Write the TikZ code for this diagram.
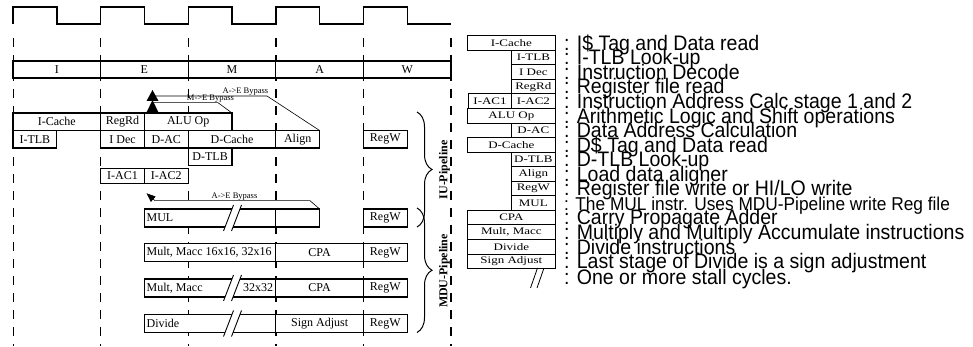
\documentclass[tikz,border=0pt]{standalone}
\usepackage{fontspec}
\setmainfont{Liberation Serif}
\newfontfamily\keyfont[FakeStretch=1.3]{Liberation Serif}
\newfontfamily\notefont[FakeStretch=0.93]{Liberation Sans}
\usetikzlibrary{positioning, calc, decorations.pathreplacing, arrows.meta}
\tikzstyle{cell}      = [rectangle, draw=black, line width=1.1pt, fill=white, inner sep=0pt,
                         outer sep=0pt, minimum height=17.5pt, font=\fontsize{12}{12}\selectfont]
\tikzstyle{celltext}  = [inner sep=0pt, font=\fontsize{12}{12}\selectfont]
\tikzstyle{keybox}    = [rectangle, draw=black, line width=1pt, fill=white, inner sep=0pt,
                         outer sep=0pt, minimum height=14.56pt, font=\keyfont\fontsize{10}{10}\selectfont]
\tikzstyle{keywide}   = [minimum width=87.3pt]
\tikzstyle{keynarrow} = [minimum width=43.3pt]
\tikzstyle{notetext}  = [anchor=base west, inner sep=0pt, font=\notefont\fontsize{21}{21}\selectfont]
\tikzstyle{bypass}    = [line width=0.6pt]
\tikzstyle{bylabel}   = [inner sep=0pt, font=\fontsize{8.5}{8.5}\selectfont]
\tikzstyle{stagedash} = [line width=1.4pt, dash pattern=on 9pt off 8pt]
\tikzstyle{clockline} = [line width=1.4pt]
\tikzstyle{pipebrace} = [decorate, decoration={brace, amplitude=15pt}, line width=1pt]
\tikzset{pics/stallmark/.style={code={
  \fill[white] (-9,13) -- (1,-13) -- (9,-13) -- (-1,13) -- cycle;
  \draw[line width=0.9pt] (-9,13) -- (1,-13) (-1,13) -- (9,-13);
}}}
\begin{document}
\begin{tikzpicture}[x=1pt, y=-1pt]
  \useasboundingbox (0,0) rectangle (973,347);

  % Stage boundaries
  \draw[stagedash, line width=0.8pt] (13,38) -- (13,346);
  \foreach \i in {1,...,5}
    \draw[stagedash] ({13+87.6*\i},38) -- ({13+87.6*\i},346);

  % Clock
  \draw[clockline] (13,24) \foreach \i in {0,...,4} {
    -- ({13+87.6*\i},7) -- ({56.8+87.6*\i},7) -- ({56.8+87.6*\i},24) -- ({100.6+87.6*\i},24)};

  % Stage names
  \node (stI) [cell, minimum width=87.6pt, minimum height=17pt, anchor=north west] at (13,61) {I};
  \node (stE) [cell, minimum width=87.6pt, minimum height=17pt, right=0pt of stI] {E};
  \node (stM) [cell, minimum width=87.6pt, minimum height=17pt, right=0pt of stE] {M};
  \node (stA) [cell, minimum width=87.6pt, minimum height=17pt, right=0pt of stM] {A};
  \node (stW) [cell, minimum width=87.6pt, minimum height=17pt, right=0pt of stA] {W};

  % IU pipeline
  \node (icache) [cell, minimum width=87.6pt, anchor=north west] at (13,113) {I-Cache};
  \node (regrd)  [cell, minimum width=43.8pt, right=0pt of icache] {RegRd};
  \node (aluop)  [cell, minimum width=87.6pt, right=0pt of regrd] {ALU Op};
  \node (itlb)   [cell, minimum width=43.8pt, below right=0pt and 0pt of icache.south west] {I-TLB};
  \node (idec)   [cell, minimum width=43.8pt, below=0pt of regrd] {I Dec};
  \node (dac)    [cell, minimum width=43.8pt, right=0pt of idec] {D-AC};
  \node (dcache) [cell, minimum width=87.6pt, right=0pt of dac] {D-Cache};
  \node (align)  [cell, minimum width=43.8pt, right=0pt of dcache] {Align};
  \node (regw1)  [cell, minimum width=43.8pt, anchor=north west] at (363.4,130.5) {RegW};
  \node (dtlb)   [cell, minimum width=43.8pt, below right=0pt and 0pt of dcache.south west] {D-TLB};
  \node (iac1)   [cell, minimum width=43.8pt, minimum height=15pt, anchor=north west] at (100.6,168.5) {I-AC1};
  \node (iac2)   [cell, minimum width=43.8pt, minimum height=15pt, right=0pt of iac1] {I-AC2};

  % Bypasses
  \coordinate (aeR) at (267,96);
  \coordinate (aeL) at (153,96);
  \coordinate (meR) at (218,102.7);
  \coordinate (meL) at (153,102.7);
  \draw[bypass] (align.north east) -- (aeR) -- (aeL);
  \draw[bypass] (aluop.north east) -- (meR) -- (meL);
  \fill (146.5,101) -- (152.5,90) -- (158.5,101) -- cycle;
  \fill (146.5,112.5) -- (152.5,100) -- (158.5,112.5) -- cycle;
  \node (aelbl) [bylabel, above left=0.3pt and -1.5pt of aeR] {A->E Bypass};
  \node (melbl) [bylabel, anchor=south] at ([xshift=-7.5pt, yshift=0.3pt]meR) {M->E Bypass};

  % MDU pipeline
  \node (mul)   [cell, minimum width=131.4pt, minimum height=18pt, anchor=north west] at (144.4,209) {};
  \node (mulx)  [cell, minimum width=43.8pt, minimum height=18pt, right=0pt of mul] {};
  \node (regw2) [cell, minimum width=43.8pt, minimum height=18pt, anchor=north west] at (363.4,209) {RegW};
  \node (tmul)  [celltext, right=2pt of mul.west] {MUL};

  \node (m16)   [cell, minimum width=131.4pt, minimum height=18pt, anchor=north west] at (144.4,243.5) {};
  \node (cpa1)  [cell, minimum width=87.6pt, minimum height=18pt, right=0pt of m16] {CPA};
  \node (regw3) [cell, minimum width=43.8pt, minimum height=18pt, right=0pt of cpa1] {RegW};
  \node (tm16)  [celltext, right=2pt of m16.west] {Mult, Macc 16x16, 32x16};

  \node (m32)   [cell, minimum width=131.4pt, minimum height=18pt, anchor=north west] at (144.4,279) {};
  \node (cpa2)  [cell, minimum width=87.6pt, minimum height=18pt, right=0pt of m32] {CPA};
  \node (regw4) [cell, minimum width=43.8pt, minimum height=18pt, right=0pt of cpa2] {RegW};
  \node (tm32)  [celltext, right=2pt of m32.west] {Mult, Macc};
  \node (tm32b) [celltext, left=2.5pt of m32.east] {32x32};

  \node (div)   [cell, minimum width=131.4pt, minimum height=18pt, anchor=north west] at (144.4,314.5) {};
  \node (sadj)  [cell, minimum width=87.6pt, minimum height=18pt, right=0pt of div] {Sign Adjust};
  \node (regw5) [cell, minimum width=43.8pt, minimum height=18pt, right=0pt of sadj] {RegW};
  \node (tdiv)  [celltext, right=2pt of div.west] {Divide};

  \pic at ([xshift=22.4pt]mul.center) {stallmark};
  \pic at ([xshift=22.4pt]m32.center) {stallmark};
  \pic at ([xshift=22.4pt]div.center) {stallmark};

  % MUL bypass
  \coordinate (ae2R) at (310,200.7);
  \coordinate (ae2L) at (155,200.7);
  \coordinate (ae2T) at (146.5,193.3);
  \draw[bypass, -{Triangle[length=9pt, width=7pt]}] (mulx.north east) -- (ae2R) -- (ae2L) -- (ae2T);
  \node (ae2lbl) [bylabel, anchor=south] at (234.5,200.3) {A->E Bypass};

  % Pipelines
  \draw[pipebrace] (417,112) -- (417,227);
  \draw[pipebrace] (417,208) -- (417,332.5);
  \node (iulbl)  [rotate=90, inner sep=0pt, font=\bfseries\fontsize{12}{12}\selectfont] at (444.5,170) {IU-Pipeline};
  \node (mdulbl) [rotate=90, inner sep=0pt, font=\bfseries\fontsize{12}{12}\selectfont] at (444.5,271) {MDU-Pipeline};

  % Legend
  \node (kicache) [keybox, keywide, anchor=north west] at (467.7,35.7) {I-Cache};
  \node (kitlb)   [keybox, keynarrow, below left=0pt and 0pt of kicache.south east] {I-TLB};
  \node (kidec)   [keybox, keynarrow, below left=0pt and 0pt of kitlb.south east] {I Dec};
  \node (kregrd)  [keybox, keynarrow, below left=0pt and 0pt of kidec.south east] {RegRd};
  \node (kiac2)   [keybox, keynarrow, below left=0pt and 0pt of kregrd.south east] {I-AC2};
  \node (kiac1)   [keybox, keynarrow, left=0pt of kiac2] {I-AC1};
  \node (kaluop)  [keybox, keywide, below left=0pt and 0pt of kiac2.south east] {ALU Op};
  \node (kdac)    [keybox, keynarrow, below left=0pt and 0pt of kaluop.south east] {D-AC};
  \node (kdcache) [keybox, keywide, below left=0pt and 0pt of kdac.south east] {D-Cache};
  \node (kdtlb)   [keybox, keynarrow, below left=0pt and 0pt of kdcache.south east] {D-TLB};
  \node (kalign)  [keybox, keynarrow, below left=0pt and 0pt of kdtlb.south east] {Align};
  \node (kregw)   [keybox, keynarrow, below left=0pt and 0pt of kalign.south east] {RegW};
  \node (kmul)    [keybox, keynarrow, below left=0pt and 0pt of kregw.south east] {MUL};
  \node (kcpa)    [keybox, keywide, below left=0pt and 0pt of kmul.south east] {CPA};
  \node (kmacc)   [keybox, keywide, below left=0pt and 0pt of kcpa.south east] {Mult, Macc};
  \node (kdivide) [keybox, keywide, below left=0pt and 0pt of kmacc.south east] {Divide};
  \node (ksadj)   [keybox, keywide, below left=0pt and 0pt of kdivide.south east] {Sign Adjust};
  \coordinate (kstall) at ([yshift=-14.56pt]ksadj.south east);
  \draw[line width=0.8pt] (530.5,288) -- (537.5,268) (537,288) -- (544,268);

  \node (nicache) [notetext] at ([xshift=9pt]kicache.south east) {: I\$ Tag and Data read};
  \node (nitlb)   [notetext] at ([xshift=9pt]kitlb.south east)   {: I-TLB Look-up};
  \node (nidec)   [notetext] at ([xshift=9pt]kidec.south east)   {: Instruction Decode};
  \node (nregrd)  [notetext] at ([xshift=9pt]kregrd.south east)  {: Register file read};
  \node (niac)    [notetext] at ([xshift=9pt]kiac2.south east)   {: Instruction Address Calc stage 1 and 2};
  \node (naluop)  [notetext] at ([xshift=9pt]kaluop.south east)  {: Arithmetic Logic and Shift operations};
  \node (ndac)    [notetext] at ([xshift=9pt]kdac.south east)    {: Data Address Calculation};
  \node (ndcache) [notetext] at ([xshift=9pt]kdcache.south east) {: D\$ Tag and Data read};
  \node (ndtlb)   [notetext] at ([xshift=9pt]kdtlb.south east)   {: D-TLB Look-up};
  \node (nalign)  [notetext] at ([xshift=9pt]kalign.south east)  {: Load data aligner};
  \node (nregw)   [notetext] at ([xshift=9pt]kregw.south east)   {: Register file write or HI/LO write};
  \node (nmul)    [notetext, font=\notefont\fontsize{18.6}{18.6}\selectfont] at ([xshift=9pt]kmul.south east) {: The MUL instr. Uses MDU-Pipeline write Reg file};
  \node (ncpa)    [notetext] at ([xshift=9pt]kcpa.south east)    {: Carry Propagate Adder};
  \node (nmacc)   [notetext] at ([xshift=9pt]kmacc.south east)   {: Multiply and Multiply Accumulate instructions};
  \node (ndivide) [notetext] at ([xshift=9pt]kdivide.south east) {: Divide instructions};
  \node (nsadj)   [notetext] at ([xshift=9pt]ksadj.south east)   {: Last stage of Divide is a sign adjustment};
  \node (nstall)  [notetext] at ([xshift=9pt, yshift=-1.5pt]kstall) {: One or more stall cycles.};

\end{tikzpicture}
\end{document}
